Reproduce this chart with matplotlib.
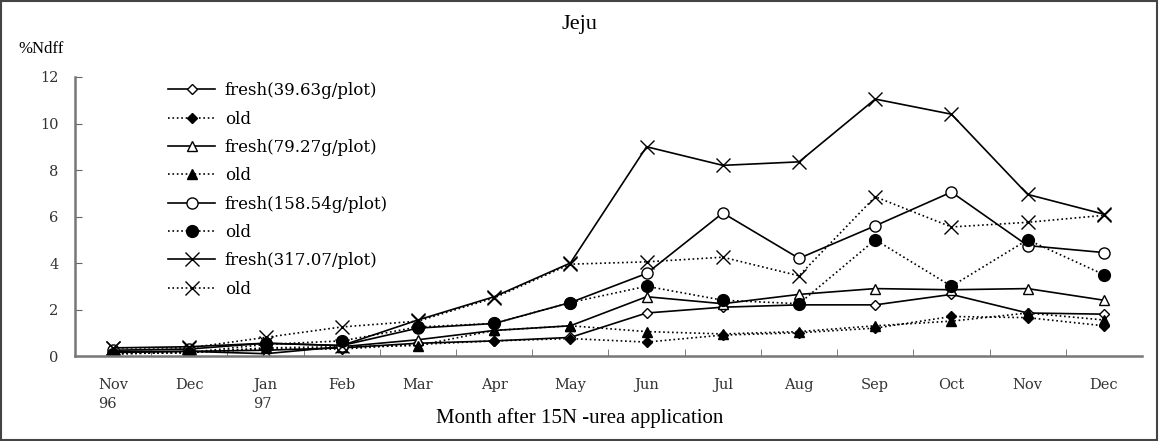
import numpy as np
import matplotlib.pyplot as plt
from matplotlib.patches import Rectangle

months = ['Nov\n96', 'Dec', 'Jan\n97', 'Feb', 'Mar', 'Apr', 'May', 'Jun',
          'Jul', 'Aug', 'Sep', 'Oct', 'Nov', 'Dec']

fresh40 = [0.15, 0.2, 0.25, 0.35, 0.55, 0.65, 0.8, 1.85, 2.1, 2.2, 2.2, 2.65, 1.85, 1.8]
old40 = [0.1, 0.15, 0.3, 0.3, 0.5, 0.65, 0.75, 0.6, 0.9, 1.0, 1.2, 1.7, 1.65, 1.3]
fresh79 = [0.2, 0.2, 0.1, 0.4, 0.7, 1.1, 1.3, 2.55, 2.25, 2.65, 2.9, 2.85, 2.9, 2.4]
old79 = [0.1, 0.15, 0.35, 0.4, 0.45, 1.1, 1.3, 1.05, 0.95, 1.05, 1.3, 1.5, 1.85, 1.55]
fresh158 = [0.25, 0.3, 0.55, 0.45, 1.2, 1.4, 2.3, 3.55, 6.15, 4.2, 5.6, 7.05, 4.75, 4.45]
old158 = [0.1, 0.15, 0.5, 0.65, 1.25, 1.4, 2.3, 3.0, 2.4, 2.25, 5.0, 3.0, 5.0, 3.5]
fresh317 = [0.35, 0.4, 0.55, 0.45, 1.55, 2.55, 4.0, 9.0, 8.2, 8.35, 11.05, 10.4, 6.95, 6.1]
old317 = [0.35, 0.35, 0.8, 1.25, 1.5, 2.5, 3.95, 4.05, 4.25, 3.45, 6.85, 5.55, 5.75, 6.05]

plt.rcParams['font.family'] = ['DejaVu Serif']

fig = plt.figure(figsize=(11.59, 4.41), dpi=100)
ax = fig.add_axes([0.0647, 0.1927, 0.9206, 0.6327])
x = np.arange(len(months))

series = [
    (fresh40, '-', 'D', 'white', 5, 'fresh(39.63g/plot)'),
    (old40, ':', 'D', 'black', 5, 'old'),
    (fresh79, '-', '^', 'white', 7, 'fresh(79.27g/plot)'),
    (old79, ':', '^', 'black', 7, 'old'),
    (fresh158, '-', 'o', 'white', 8, 'fresh(158.54g/plot)'),
    (old158, ':', 'o', 'black', 8.5, 'old'),
    (fresh317, '-', 'x', 'black', 10, 'fresh(317.07/plot)'),
    (old317, ':', 'x', 'black', 10, 'old'),
]
for vals, ls, mk, fc, ms, lab in series:
    ax.plot(x, vals, linestyle=ls, marker=mk, color='black', mfc=fc, mec='black',
            ms=ms, mew=1.0, lw=1.2, label=lab)

ax.set_xlim(-0.5, len(months) - 0.5)
ax.set_ylim(0, 12)
ax.set_yticks(range(0, 13, 2))
ax.set_xticks(x)
ax.set_xticklabels(months)
for lbl in ax.get_xticklabels():
    lbl.set_multialignment('left')
    lbl.set_linespacing(1.45)
ax.set_xticks(np.arange(0.5, len(months) - 0.5), minor=True)
ax.tick_params(axis='x', which='major', length=0, pad=16, labelsize=10.5, labelcolor='#333333')
ax.tick_params(axis='x', which='minor', direction='in', length=5, color='#666666')
ax.tick_params(axis='y', direction='in', length=5, color='#666666', labelsize=10.5,
               pad=12, labelcolor='#333333')
for s in ['top', 'right']:
    ax.spines[s].set_visible(False)
for s in ['left', 'bottom']:
    ax.spines[s].set_color('#777777')
    ax.spines[s].set_linewidth(1.8)

ax.legend(loc='upper left', bbox_to_anchor=(0.0731, 1.035), frameon=False,
          handlelength=2.85, labelspacing=0.68, fontsize=12, handletextpad=0.55)

fig.text(0.5, 0.945, 'Jeju', ha='center', va='center', fontsize=16,
         family='Liberation Serif')
fig.text(0.016, 0.89, '%Ndff', ha='left', va='center', fontsize=12,
         family='Liberation Serif')
fig.text(0.5, 0.052, 'Month after 15N -urea application', ha='center', va='center',
         fontsize=15, family='Liberation Serif')

fig.patches.append(Rectangle((0.001, 0.002), 0.997, 0.995, transform=fig.transFigure,
                             fill=False, edgecolor='#444444', lw=1.5))

fig.savefig('out.png', dpi=100)
